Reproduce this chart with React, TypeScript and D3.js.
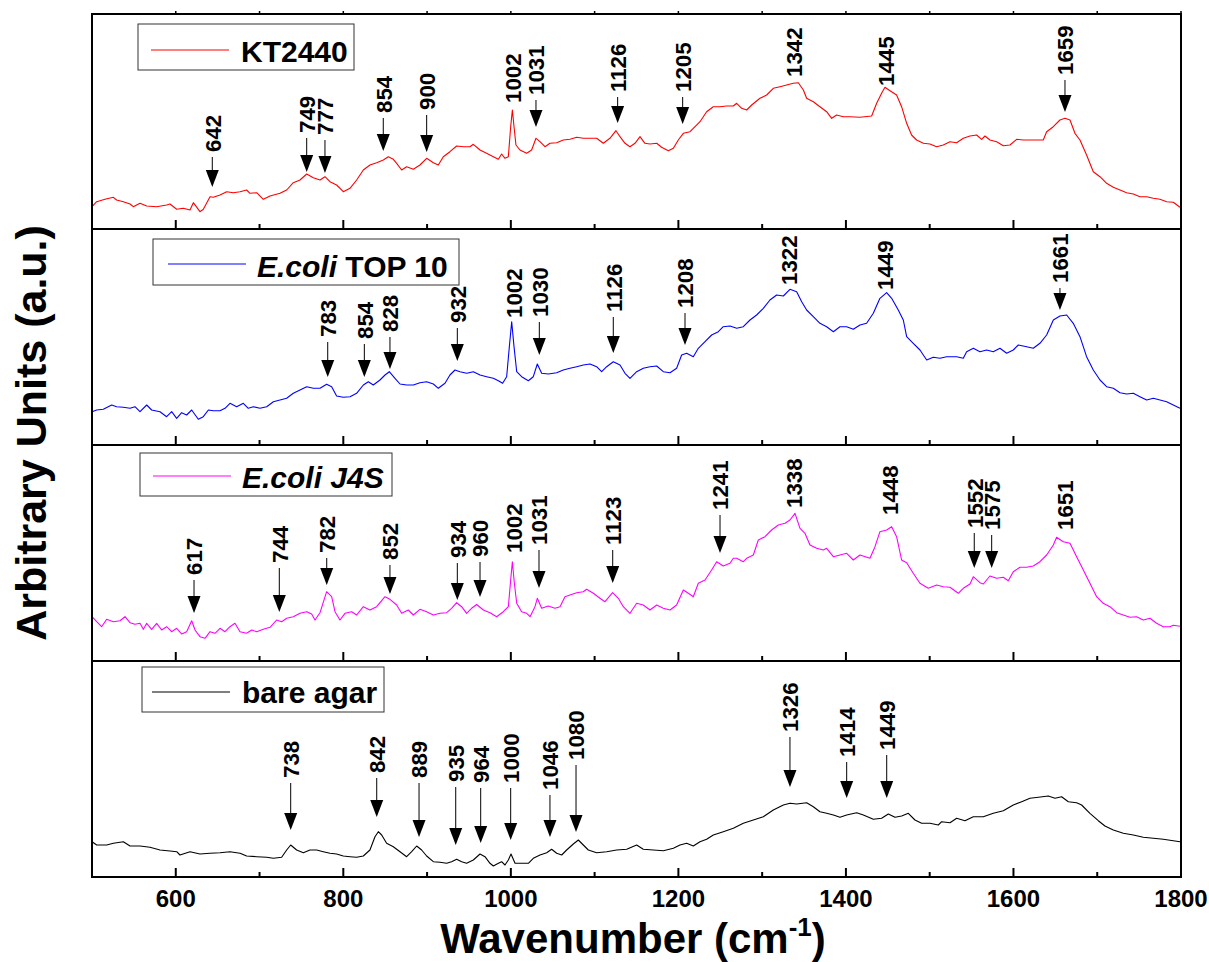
import React from 'react';
import * as d3 from 'd3';

// ---------- data ----------
const X_DOMAIN: [number, number] = [500, 1800];
const X_MAJOR = [600, 800, 1000, 1200, 1400, 1600, 1800];
const X_MINOR = [700, 900, 1100, 1300, 1500, 1700];

const seriesNames = ['KT2440', 'E.coli TOP 10', 'E.coli J4S', 'bare agar'];
const legendParts: [string, boolean][][] = [
  [['KT2440', false]],
  [['E.coli', true], [' TOP 10', false]],
  [['E.coli J4S', true]],
  [['bare agar', false]],
];

// [wavenumber, intensity (a.u.)]
const kt2440: [number, number][] = [
  [500,22.3],[505.6,27.3],[515.5,29.7],[525.5,31.7],[529.4,29],[537.4,27.3],[545.4,25],[549.3,22.3],[557.3,25.7],[565.3,23],
  [577.2,22.3],[589.1,24],[593.1,25],[601.1,19.7],[609,20.7],[617,19],[621,26.3],[628.9,17.3],[632.9,19.7],[640.9,32.3],
  [644.8,31.7],[652.8,34],[660.8,37.3],[668.7,36.3],[676.7,37.3],[684.6,39],[688.6,35.7],[696.6,36.3],[704.5,29.7],[712.5,33],
  [724.4,35.7],[732.4,39],[740.3,46.3],[748.3,49],[756.3,55],[764.2,51.3],[772.2,49],[778.1,52.3],[784.1,47.3],[792,44],
  [800,37.3],[808,40.7],[815.9,49],[823.9,59],[831.8,64],[839.8,66.3],[847.8,69],[853.7,72.3],[859.7,69.7],[863.7,65.7],
  [869.7,59],[875.6,62.3],[883.6,59.7],[891.5,64],[899.5,70.7],[907.5,66.3],[913.4,64],[919.4,72.3],[927.3,77.3],[935.3,83],
  [943.3,82.3],[951.2,82.3],[955.2,84.7],[963.2,79],[971.1,75.7],[979.1,72.3],[985.1,69.7],[989,75],[993,70.7],[997,72.3],
  [999.8,102.3],[1001.8,119],[1003.8,102.3],[1006.1,84],[1010.9,79],[1018.9,75.7],[1024.8,79],[1030,90.7],[1034.8,87.3],[1040.8,82.3],
  [1046.7,85.7],[1054.7,86.3],[1062.6,89],[1070.6,89.7],[1078.6,91.7],[1086.5,90.7],[1094.5,90.7],[1102.4,90.7],[1110.4,85.7],[1118.3,90.7],
  [1125.5,98.3],[1130.3,92.3],[1136.3,85.7],[1142.2,82.3],[1148.2,85.7],[1154.2,92.3],[1160.1,85.7],[1166.1,85],[1174.1,85.7],[1180,81.7],
  [1188,78.3],[1194,80.7],[1199.9,89],[1205.9,95.7],[1213.9,97.3],[1217.8,100.7],[1225.8,107.3],[1233.7,117.3],[1241.7,122.3],[1249.7,122.3],
  [1257.6,123],[1265.6,123],[1269.6,125.7],[1275.5,120.7],[1281.5,119],[1287.5,124],[1297.4,130.7],[1305.4,134],[1313.3,140.7],[1321.3,142.3],
  [1329.2,144],[1337.2,145.7],[1343.2,146.3],[1349.2,139],[1353.1,130.7],[1361.1,127.3],[1369,122.3],[1377,117.3],[1383,110.7],[1388.9,114],
  [1396.9,112.3],[1404.8,112.3],[1416.8,111.7],[1430.7,113],[1436.7,125.7],[1442.6,135.7],[1446.6,141.7],[1452.6,138.3],[1460.5,134],[1466.5,122.3],
  [1472.5,105.7],[1478.4,94],[1484.4,89],[1492.4,85.7],[1500.3,85],[1508.3,82.3],[1516.2,84],[1524.2,87.3],[1532.2,86.3],[1540.1,90.7],
  [1548.1,93],[1556,94],[1562,89.7],[1566,93],[1571.9,89],[1579.9,87.3],[1587.9,83.3],[1595.8,84],[1603.8,89.7],[1611.7,89],
  [1619.7,89],[1627.7,89],[1635.6,89],[1639.6,97.3],[1647.6,102.3],[1655.5,109],[1661.5,110.7],[1667.5,109],[1673.4,95.7],[1679.4,89],
  [1687.3,74],[1695.3,57.3],[1703.3,52.3],[1711.2,45.7],[1719.2,41.7],[1727.2,39],[1735.1,36.3],[1743.1,35],[1751,32.3],[1759,32.3],
  [1767,30.7],[1774.9,29.7],[1782.9,27.3],[1790.8,26.7],[1798.8,21.7],
];

const ecoliTop10: [number, number][] = [
  [500,33.3],[505.6,35],[513.5,35.7],[523.5,40],[529.4,38.3],[537.4,37.7],[545.4,36.7],[551.3,38.3],[557.3,33.3],[565.3,40],
  [571.2,35],[581.2,33.3],[589.1,28.3],[595.1,33.3],[601.1,26.7],[607,32.3],[613,30],[619,35],[626.9,25.7],[632.9,28.3],
  [638.9,35],[644.8,34.3],[652.8,34.3],[658.8,36.7],[664.7,41.7],[672.7,38.3],[680.6,41.7],[686.6,36.7],[692.6,38.3],[700.5,36.7],
  [708.5,38.3],[716.5,43.3],[724.4,45],[732.4,46.7],[740.3,51.7],[748.3,55],[756.3,58.3],[764.2,56.7],[772.2,56.7],[780.1,60.7],
  [786.1,58.3],[792,49],[800,47.7],[808,48.3],[815.9,51.7],[823.9,60],[829.9,63.3],[835.8,60],[843.8,65],[849.8,70],
  [854.9,73.3],[861.7,66.7],[867.7,61],[875.6,60],[883.6,60],[891.5,62.3],[899.5,63.3],[907.5,61],[913.4,56.7],[921.4,61.7],
  [927.3,70],[933.3,75],[939.3,73.3],[947.3,71.7],[955.2,73.3],[963.2,70],[971.1,68.3],[979.1,66.7],[985.1,64.3],[990.2,61.7],
  [995,68.3],[998.2,98.3],[1001,123.3],[1003.8,98.3],[1007,73.3],[1012.9,68.3],[1020.9,64.3],[1026.8,68.3],[1031.6,81],[1036.8,71.7],
  [1044.7,71],[1054.7,72.3],[1062.6,75],[1070.6,76.7],[1078.6,78.3],[1086.5,80],[1094.5,81],[1102.4,78.3],[1108.4,73.3],[1114.4,78.3],
  [1122.3,83.3],[1130.3,80],[1136.3,71.7],[1142.2,66.7],[1150.2,73.3],[1158.1,76.7],[1166.1,78.3],[1174.1,79],[1182,73.3],[1190,72.3],
  [1197.9,76.7],[1203.9,90],[1209.9,91.7],[1217.8,88.3],[1223.8,96.7],[1231.8,103.3],[1239.7,110],[1247.7,113.3],[1253.6,118.3],[1261.6,119],
  [1269.6,116.7],[1277.5,118.3],[1285.5,125],[1293.4,130],[1301.4,136.7],[1309.3,145],[1317.3,150],[1325.3,149],[1333.2,155.7],[1341.2,153.3],
  [1347.2,143.3],[1353.1,135],[1361.1,128.3],[1369,121.7],[1377,118.3],[1385,113.3],[1392.9,118.3],[1400.9,118.3],[1408.8,115.7],[1416.8,120],
  [1424.7,121.7],[1432.7,131.7],[1440.6,146.7],[1448.6,152.3],[1454.6,146.7],[1462.5,135],[1468.5,125],[1472.5,108.3],[1480.4,101.7],[1488.4,95],
  [1496.4,85],[1504.3,87.7],[1512.3,86.7],[1520.2,88.3],[1532.2,88.3],[1540.1,86.7],[1544.1,93.3],[1552.1,96.7],[1560,93.3],[1568,95],
  [1575.9,93.3],[1583.9,96.7],[1591.9,91.7],[1599.8,95],[1605.8,100],[1615.7,98.3],[1623.7,96.7],[1631.6,101.7],[1639.6,110],[1647.6,125],
  [1655.5,129],[1663.5,130],[1671.4,121.7],[1679.4,108.3],[1687.3,88.3],[1695.3,75],[1703.3,65],[1711.2,58.3],[1719.2,56.7],[1727.2,52.3],
  [1735.1,51],[1743.1,51.7],[1751,48.3],[1759,45],[1767,46.7],[1774.9,45],[1782.9,43.3],[1790.8,40],[1798.8,36.7],
];

const ecoliJ4S: [number, number][] = [
  [500,44.3],[505.6,39.3],[511.5,34.3],[517.5,41.7],[525.5,39.3],[533.4,40.3],[539.4,44.3],[545.4,38.3],[551.3,36.7],[557.3,37.7],
  [561.3,31.7],[565.3,37.7],[571.2,31.7],[577.2,37.7],[583.2,31],[589.1,34.3],[595.1,29.3],[601.1,32.7],[607,27],[613,29.3],
  [619,40.3],[623,31],[628.9,24.3],[634.9,22.7],[640.9,29.3],[646.8,27.7],[652.8,32.7],[658.8,29.3],[664.7,34.3],[670.7,37.7],
  [676.7,29.3],[684.6,27.7],[690.6,31],[696.6,29.3],[704.5,31.7],[712.5,33.7],[720.4,41],[726.4,39.3],[732.4,42.7],[740.3,44.3],
  [748.3,47.7],[756.3,49.3],[762.2,47],[766.2,41],[772.2,48.3],[780.1,69.3],[786.1,64.3],[790.1,49.3],[796,41],[802,47.7],
  [810,49.3],[815.9,46],[823.9,54.3],[831.8,51],[839.8,54.3],[849.8,64.3],[855.7,61.7],[863.7,56],[869.7,47.7],[877.6,51],
  [883.6,46],[891.5,51.7],[899.5,49.3],[907.5,46],[915.4,47.7],[923.4,48.3],[929.3,52.7],[935.3,58.3],[941.3,54.3],[947.2,47.7],
  [953.2,52.7],[959.2,56.5],[967.2,51],[975.1,48.3],[983.1,44.3],[991,49.3],[997,54.3],[999.8,81],[1001.8,99.3],[1004.2,77.7],
  [1007,57.7],[1012.9,49.3],[1018.9,47.7],[1022.9,44.3],[1028.8,54.3],[1031.6,62.7],[1036.8,52.7],[1044.7,55],[1052.7,52.7],[1058.7,54.3],
  [1064.6,64.3],[1070.6,66],[1078.6,68.3],[1086.5,69.3],[1090.5,71.7],[1098.5,67.7],[1106.4,62.7],[1112.4,59.3],[1121.5,68.3],[1128.3,62.7],
  [1134.3,54.3],[1142.2,47.7],[1150.2,57.7],[1158.1,56],[1166.1,51],[1174.1,56],[1182,52.7],[1190,51],[1197.9,56],[1205.9,71],
  [1211.9,67.7],[1217.8,64.3],[1223.8,77.7],[1231.8,81],[1239.7,91],[1245.7,99.3],[1253.6,95],[1261.6,97.7],[1265.6,102.7],[1269.6,102.7],
  [1277.5,99.3],[1281.5,102.7],[1289.5,106],[1295.4,121],[1303.4,124.3],[1311.3,131],[1319.3,136],[1327.3,137.7],[1333.2,141],[1339.2,147.7],
  [1345.2,132.7],[1351.1,127.7],[1357.1,116],[1365.1,112.7],[1373,111],[1377,112.7],[1385,104.3],[1392.9,106],[1400.9,107.7],[1408.8,101],
  [1416.8,106],[1428.7,102.7],[1434.7,114.3],[1440.6,129.3],[1448.6,131],[1454.6,134.3],[1460.5,124.3],[1466.5,101],[1472.5,98.3],[1480.4,87.7],
  [1488.4,77.7],[1498.3,72.7],[1508.3,76],[1516.2,74.3],[1524.2,73.7],[1534.2,67.7],[1540.1,72.7],[1548.1,77],[1552.1,84.3],[1560,78.3],
  [1564,77],[1571.9,85],[1579.9,82.7],[1587.9,83.7],[1593.8,80.3],[1599.8,89.3],[1607.8,93.7],[1615.7,93.7],[1623.7,95],[1631.6,99.3],
  [1639.6,106],[1647.6,116],[1651.5,123.7],[1659.5,119.3],[1667.5,117.7],[1675.4,104.3],[1683.4,91],[1691.3,77.7],[1699.3,64.3],[1707.2,57.7],
  [1715.2,54.3],[1723.2,48.3],[1731.1,46],[1739.1,43.7],[1747,44.3],[1755,41],[1763,42.7],[1770.9,37.7],[1778.9,34.3],[1786.8,34.3],
  [1790.8,35.7],[1798.8,34.7],
];

const bareAgar: [number, number][] = [
  [500,35.3],[505.6,32],[517.5,32],[525.5,33.7],[537.4,35.3],[545.4,31],[557.3,31],[569.2,29.7],[581.2,27],[593.1,26],
  [601.1,25.3],[605,22],[617,25.3],[628.9,23],[640.9,23.7],[652.8,24.3],[664.7,25.3],[676.7,23.7],[684.6,21],[696.6,20.3],
  [708.5,19.7],[716.5,18.7],[726.4,19.7],[732.4,27],[737.2,32],[744.3,27],[752.3,24.3],[760.2,27],[768.2,27],[776.1,25.3],
  [784.1,23.7],[792,23],[800,21],[808,20.3],[815.9,19.7],[823.9,21],[831.8,27],[837.8,40.3],[841.8,45.3],[845.8,42],
  [851.7,33.7],[859.7,30.3],[867.7,25.3],[875.6,20.3],[881.6,25.3],[887.6,31],[893.5,27],[899.5,21],[907.5,15.3],[915.4,14.7],
  [923.4,13.7],[929.3,15.3],[935.3,17.7],[941.3,15.3],[947.2,13.7],[955.2,17],[963.2,23],[969.1,20.3],[975.1,13.7],[979.1,11],
  [985.1,13.7],[989,15.3],[993,12],[997,17],[1000.2,23],[1005,13.7],[1012.9,13.7],[1020.9,13.7],[1026.8,18.7],[1034.8,22],
  [1042.8,24.3],[1048.7,27.7],[1054.7,23.7],[1060.7,22],[1066.6,27],[1074.6,33],[1080.6,37],[1086.5,32],[1092.5,27],[1102.4,24.3],
  [1114.4,25.3],[1126.3,27],[1138.3,27.7],[1150.2,32],[1158.1,27.7],[1170.1,27],[1182,26.3],[1194,28.7],[1201.9,32],[1209.9,33.7],
  [1217.8,31],[1225.8,35.3],[1233.7,37.7],[1241.7,42],[1253.6,45.3],[1265.6,48.7],[1277.5,53.7],[1289.5,57],[1301.4,60.3],[1313.3,67],
  [1325.3,72],[1333.2,73.7],[1341.2,73],[1353.1,74.3],[1361.1,70.3],[1369,65.3],[1377,63.7],[1385,62],[1392.9,59.7],[1400.9,62],
  [1412.8,64.3],[1420.8,62],[1432.7,57.7],[1442.6,58.7],[1450.6,63],[1458.6,59.7],[1466.5,61],[1474.5,63.7],[1482.4,57],[1490.4,53.7],
  [1500.3,53.7],[1510.3,52],[1514.3,55.3],[1524.2,54.3],[1532.2,58.7],[1542.1,56.3],[1552.1,60.3],[1564,60.3],[1575.9,63.7],[1587.9,66.3],
  [1599.8,72],[1609.8,75.3],[1619.7,78.7],[1629.7,79.7],[1641.6,81],[1649.6,78.7],[1657.5,80.3],[1665.5,75.3],[1675.4,74.3],[1681.4,72],
  [1691.3,63.7],[1701.3,56.3],[1709.2,51],[1719.2,47],[1731.1,43.7],[1743.1,42],[1755,39.7],[1767,38.7],[1778.9,37.7],[1790.8,36.3],
  [1798.8,35.3],
];

// peak annotations: [label, wavenumber, label-foot intensity, arrow-tip intensity | null]
type Ann = [string, number, number, number | null];
const annKT2440: Ann[] = [
  ['642', 643.6, 77, 42], ['749', 756.3, 96, 57], ['777', 778.1, 94, 56], ['854', 847.7, 116, 78],
  ['900', 899.5, 119, 77], ['1002', 1001.7, 126, null], ['1031', 1030, 134, 102], ['1126', 1127.5, 137, 106],
  ['1205', 1205.1, 137, 105], ['1342', 1338, 152, null], ['1445', 1447, 143, null], ['1659', 1661.5, 154, 117],
];
const annTop10: Ann[] = [
  ['783', 781.4, 108, 68], ['854', 825.1, 106, 68], ['828', 855.7, 113, 76], ['932', 936.1, 122, 84],
  ['1002', 1003.8, 127, null], ['1030', 1034, 128, 90], ['1126', 1122.3, 133, 92], ['1208', 1207.9, 137, 100],
  ['1322', 1331.2, 160, null], ['1449', 1446.6, 155, null], ['1661', 1655.5, 162, 135],
];
const annJ4S: Ann[] = [
  ['617', 621.8, 86, 48], ['744', 723.6, 98, 49], ['782', 780.2, 108, 76], ['852', 855.7, 101, 67],
  ['934', 936.1, 103, 61], ['960', 963.2, 104, 64], ['1002', 1002.9, 108, null], ['1031', 1033.6, 116, 73],
  ['1123', 1121.6, 116, 78], ['1241', 1249.7, 151, 108], ['1338', 1338, 153, null], ['1448', 1451.8, 146, null],
  ['1552', 1553.2, 133, 93], ['1575', 1574, 131, 93], ['1651', 1661.5, 131, null],
];
const annAgar: Ann[] = [
  ['738', 737.2, 99, 47], ['842', 839.9, 104, 60], ['889', 890.4, 99, 40], ['935', 934.2, 95, 32],
  ['964', 964, 94, 34], ['1000', 999.8, 94, 37], ['1046', 1046.7, 87, 40], ['1080', 1077.8, 117, 45],
  ['1326', 1333.2, 145, 90], ['1414', 1400.9, 120, 79], ['1449', 1448.7, 127, 79],
];

// ---------- layout / style ----------
const W = 1209, H = 962;
const LEFT = 92, RIGHT = 1181;
const PANEL_TOPS = [14, 229, 445, 661];
const PANEL_BOTTOMS = [229, 445, 661, 877];
const Y_SPAN = 216;
const COLORS = ['#ff0000', '#0000ff', '#ff00ff', '#000000'];
const SERIES = [kt2440, ecoliTop10, ecoliJ4S, bareAgar];
const ANNS = [annKT2440, annTop10, annJ4S, annAgar];
// legend box layout: [x0, y0, x1, y1, lineX0, lineX1, lineY, textX, textBaseline]
const LEGEND_BOXES = [
  [138, 24, 354, 70, 151, 229, 50, 241, 62],
  [153, 239, 459, 285, 168, 246, 264, 257, 277],
  [140, 453, 392, 496, 153, 231, 476, 242, 488],
  [142, 667, 384, 712, 152, 230, 692, 242, 703],
];
const FONT = '"Liberation Sans", Arial, Helvetica, sans-serif';

export default function App() {
  const x = d3.scaleLinear().domain(X_DOMAIN).range([LEFT, RIGHT]);

  return (
    <svg width={W} height={H} viewBox={`0 0 ${W} ${H}`}
      style={{ position: 'absolute', left: 0, top: 0, background: '#fff' }}
      fontFamily={FONT}>
      <rect x={0} y={0} width={W} height={H} fill="#fff" />
      {SERIES.map((data, i) => {
        const bottom = PANEL_BOTTOMS[i];
        const top = PANEL_TOPS[i];
        const y = d3.scaleLinear().domain([0, Y_SPAN]).range([bottom, bottom - Y_SPAN]);
        const line = d3.line<[number, number]>().x(d => x(d[0])).y(d => y(d[1]));
        const lg = LEGEND_BOXES[i];
        return (
          <g key={seriesNames[i]}>
            <path d={line(data) || ''} fill="none" stroke={COLORS[i]} strokeWidth={1.1} strokeLinejoin="round" />
            {/* annotations */}
            {ANNS[i].map(([label, w, foot, tip], k) => {
              const ax = x(w);
              const fy = y(foot);
              const els: any[] = [
                <text key="t" transform={`translate(${ax},${fy}) rotate(-90) scale(0.97,1)`} dy="0.36em"
                  fontSize={23} fontWeight="bold" fill="#000">{label}</text>,
              ];
              if (tip !== null) {
                const ty = y(tip);
                const headLen = 17, half = 6.5;
                els.push(<line key="l" x1={ax} x2={ax} y1={fy + 5} y2={ty - headLen + 1} stroke="#000" strokeWidth={1} />);
                els.push(<path key="h" d={`M${ax - half},${ty - headLen}L${ax + half},${ty - headLen}L${ax},${ty}Z`} fill="#000" />);
              }
              return <g key={k}>{els}</g>;
            })}
            {/* legend */}
            <rect x={lg[0]} y={lg[1]} width={lg[2] - lg[0]} height={lg[3] - lg[1]} fill="#fff" stroke="#333" strokeWidth={1} />
            <line x1={lg[4]} x2={lg[5]} y1={lg[6]} y2={lg[6]} stroke={COLORS[i]} strokeWidth={1.1} />
            <text x={lg[7]} y={lg[8]} fontSize={30} fontWeight="bold" fill="#000">
              {legendParts[i].map(([t, it], j) => (
                <tspan key={j} fontStyle={it ? 'italic' : 'normal'} style={{ whiteSpace: 'pre' }}>{t}</tspan>
              ))}
            </text>
            {/* ticks */}
            {X_MAJOR.map(v => (
              <line key={'M' + v} x1={x(v)} x2={x(v)} y1={bottom} y2={bottom - 9} stroke="#000" strokeWidth={2} />
            ))}
            {X_MINOR.map(v => (
              <line key={'m' + v} x1={x(v)} x2={x(v)} y1={bottom} y2={bottom - 5} stroke="#000" strokeWidth={2} />
            ))}
            {i === 0 && [...X_MAJOR, ...X_MINOR].map(v => (
              <line key={'T' + v} x1={x(v)} x2={x(v)} y1={top} y2={top - 3} stroke="#000" strokeWidth={1.5} />
            ))}
            {/* frame */}
            <rect x={LEFT} y={top} width={RIGHT - LEFT} height={bottom - top} fill="none" stroke="#000" strokeWidth={2} />
          </g>
        );
      })}
      {/* x tick labels */}
      {X_MAJOR.map(v => (
        <text key={v} x={x(v)} y={907} textAnchor="middle" fontSize={24} fontWeight="bold" fill="#000">{v}</text>
      ))}
      {/* axis titles */}
      <text x={633} y={953} textAnchor="middle" fontSize={42} fontWeight="bold" fill="#000">
        <tspan>Wavenumber (cm</tspan>
        <tspan fontSize={26} dy={-17}>-1</tspan>
        <tspan dy={17}>)</tspan>
      </text>
      <text transform="translate(46,433) rotate(-90)" textAnchor="middle" fontSize={43} fontWeight="bold" fill="#000">
        Arbitrary Units (a.u.)
      </text>
    </svg>
  );
}
